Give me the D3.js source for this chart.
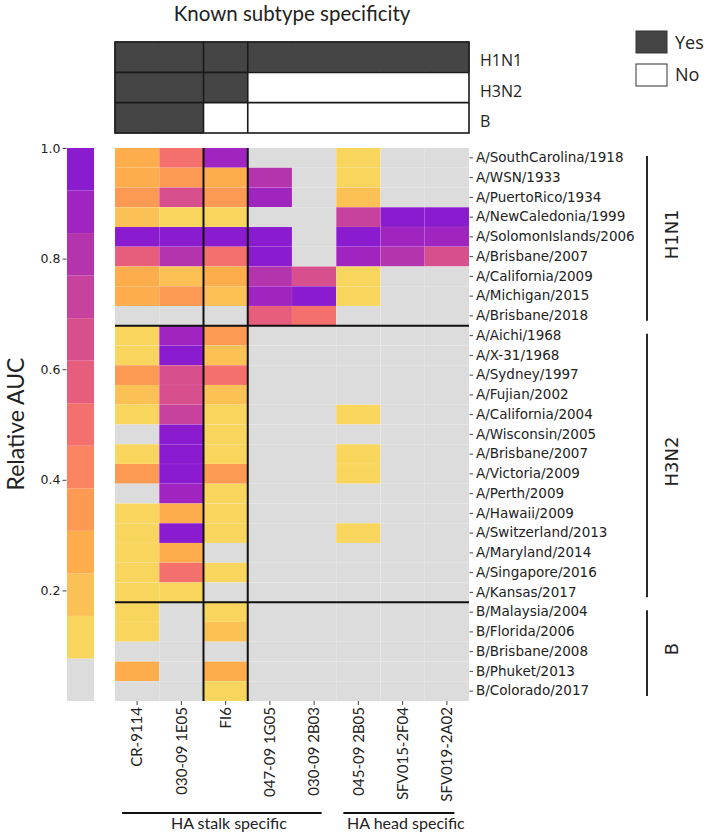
<!DOCTYPE html>
<html><head><meta charset="utf-8">
<script src="https://cdn.jsdelivr.net/npm/d3@7"></script>
<style>body{margin:0;background:#fff;} svg{display:block;}</style>
</head><body><svg id="chart" width="709" height="835"></svg>
<script>
// ---------------- DATA ----------------
const antibodies = ['CR-9114','030-09 1E05','FI6','047-09 1G05','030-09 2B03','045-09 2B05','SFV015-2F04','SFV019-2A02'];
const antibodyClasses = ['HA stalk specific','HA head specific'];
const antibodyClassSizes = [5,3];

const strains = ['A/SouthCarolina/1918','A/WSN/1933','A/PuertoRico/1934','A/NewCaledonia/1999','A/SolomonIslands/2006','A/Brisbane/2007','A/California/2009','A/Michigan/2015','A/Brisbane/2018',
  'A/Aichi/1968','A/X-31/1968','A/Sydney/1997','A/Fujian/2002','A/California/2004','A/Wisconsin/2005','A/Brisbane/2007','A/Victoria/2009','A/Perth/2009','A/Hawaii/2009','A/Switzerland/2013','A/Maryland/2014','A/Singapore/2016','A/Kansas/2017',
  'B/Malaysia/2004','B/Florida/2006','B/Brisbane/2008','B/Phuket/2013','B/Colorado/2017'];
const subtypes = ['H1N1','H3N2','B'];
const subtypeSizes = [9,14,5];

// Known subtype specificity (1 = Yes, 0 = No), per antibody
const specH1N1 = [1,1,1,1,1,1,1,1];
const specH3N2 = [1,1,1,0,0,0,0,0];
const specB    = [1,1,0,0,0,0,0,0];

// Relative AUC per antibody (one value per strain, null = no binding)
const aucCR9114  = [0.27,0.27,0.35,0.19,0.96,0.58,0.27,0.27,null, 0.12,0.12,0.35,0.19,0.12,null,0.12,0.35,null,0.12,0.12,0.12,0.12,0.12, 0.12,0.12,null,0.27,null];
const auc1E05    = [0.50,0.35,0.65,0.12,0.96,0.81,0.19,0.35,null, 0.88,0.96,0.65,0.65,0.73,0.96,0.96,0.96,0.88,0.27,0.96,0.27,0.50,0.12, null,null,null,null,null];
const aucFI6     = [0.88,0.27,0.35,0.12,0.96,0.50,0.27,0.19,null, 0.35,0.19,0.50,0.19,0.12,0.12,0.12,0.35,0.12,0.12,0.12,null,0.12,null, 0.12,0.19,null,0.27,0.12];
const auc1G05    = [null,0.81,0.88,null,0.96,0.96,0.81,0.88,0.58, null,null,null,null,null,null,null,null,null,null,null,null,null,null, null,null,null,null,null];
const auc2B03    = [null,null,null,null,null,null,0.65,0.96,0.50, null,null,null,null,null,null,null,null,null,null,null,null,null,null, null,null,null,null,null];
const auc2B05    = [0.12,0.12,0.19,0.73,0.96,0.88,0.12,0.12,null, null,null,null,null,0.12,null,0.12,0.12,null,null,0.12,null,null,null, null,null,null,null,null];
const auc2F04    = [null,null,null,0.96,0.88,0.81,null,null,null, null,null,null,null,null,null,null,null,null,null,null,null,null,null, null,null,null,null,null];
const auc2A02    = [null,null,null,0.96,0.88,0.65,null,null,null, null,null,null,null,null,null,null,null,null,null,null,null,null,null, null,null,null,null,null];

const colorbarTicks = [0.2,0.4,0.6,0.8,1.0];
// 13 discrete colour bands, low -> high (first = no binding)
const bandColors = ['#dcdcdd','#f8d65e','#fcc154','#fdad4c','#fc9952','#fa8560','#f3706c','#e65e7c','#d84f8d','#c7429f','#b434ae','#a025c0','#8b1bce'];

// ---------------- CHART ----------------
const aucColumns = [aucCR9114,auc1E05,aucFI6,auc1G05,auc2B03,auc2B05,auc2F04,auc2A02];
const specRows = [specH1N1,specH3N2,specB];

const svg = d3.select('#chart');
const x = d3.scaleBand().domain(antibodies).range([115,469]);
const y = d3.scaleBand().domain(d3.range(strains.length)).range([148,701]);
const color = d3.scaleQuantize().domain([0,1]).range(bandColors);
const cb = d3.scaleLinear().domain([0,1]).range([701,148]);

// title
svg.append('text').attr('x',292).attr('y',21).attr('text-anchor','middle')
  .style('font-family','Lato').style('font-size','20.5px').attr('fill','#222').text('Known subtype specificity');

// known specificity block
const ys = d3.scaleBand().domain(subtypes).range([42,133]);
const block = svg.append('g');
specRows.forEach((row,ri)=>{
  row.forEach((v,ci)=>{
    block.append('rect').attr('x',x(antibodies[ci])-0.5).attr('y',ys(subtypes[ri])-0.5)
      .attr('width',x.bandwidth()+1).attr('height',ys.bandwidth()+1)
      .attr('fill', v ? '#454545' : '#ffffff');
  });
});
block.append('rect').attr('x',x.range()[0]).attr('y',ys.range()[0]).attr('width',x.range()[1]-x.range()[0]).attr('height',ys.range()[1]-ys.range()[0])
  .attr('fill','none').attr('stroke','#1a1a1a').attr('stroke-width',1.6);
subtypes.slice(1).forEach(s=>{
  block.append('line').attr('x1',x.range()[0]).attr('x2',x.range()[1]).attr('y1',ys(s)).attr('y2',ys(s)).attr('stroke','#1a1a1a').attr('stroke-width',1.6);
});
[antibodies[2],antibodies[3]].forEach(a=>{
  block.append('line').attr('x1',x(a)).attr('x2',x(a)).attr('y1',ys.range()[0]).attr('y2',ys.range()[1]).attr('stroke','#1a1a1a').attr('stroke-width',1.6);
});
subtypes.forEach(s=>{
  block.append('text').attr('x',480).attr('y',ys(s)+ys.bandwidth()/2+3).attr('dominant-baseline','central')
    .style('font-family','Open Sans').style('font-size','16px').attr('fill','#222').text(s);
});

// legend
const legend = [{label:'Yes',fill:'#454545'},{label:'No',fill:'#ffffff'}];
legend.forEach((d,i)=>{
  svg.append('rect').attr('x',636).attr('y',31+i*33).attr('width',31).attr('height',22)
    .attr('fill',d.fill).attr('stroke','#333').attr('stroke-width',1);
  svg.append('text').attr('x',675).attr('y',42+i*32).attr('dominant-baseline','central')
    .style('font-family','Open Sans').style('font-size','18px').attr('fill','#222').text(d.label);
});

// heatmap cells
const cells = [];
aucColumns.forEach((col,ci)=>col.forEach((v,ri)=>cells.push({ci,ri,v})));
svg.append('g').selectAll('rect').data(cells).join('rect')
  .attr('x',d=>x(antibodies[d.ci])).attr('y',d=>y(d.ri))
  .attr('width',x.bandwidth()).attr('height',y.bandwidth())
  .attr('fill',d=>color(d.v==null?0:d.v))
  .attr('stroke','rgba(255,255,255,0.12)').attr('stroke-width',0.5);

// separators
let acc=0;
subtypeSizes.slice(0,-1).forEach(n=>{
  acc+=n;
  svg.append('line').attr('x1',x.range()[0]).attr('x2',x.range()[1]).attr('y1',y(acc)).attr('y2',y(acc))
    .attr('stroke','#111').attr('stroke-width',2);
});
[antibodies[2],antibodies[3]].forEach(a=>{
  svg.append('line').attr('x1',x(a)).attr('x2',x(a)).attr('y1',y.range()[0]).attr('y2',y.range()[1])
    .attr('stroke','#111').attr('stroke-width',2);
});

// row axis (right)
const rowAxis = svg.append('g').attr('transform','translate(469.5,0)')
  .call(d3.axisRight(y).tickSize(3.5).tickPadding(3).tickFormat(i=>strains[i]));
rowAxis.select('.domain').remove();
rowAxis.selectAll('line').attr('stroke','#444');
rowAxis.selectAll('text').style('font-family','DejaVu Sans').style('font-size','13.5px').attr('fill','#222');

// column axis (bottom)
const colAxis = svg.append('g').attr('transform','translate(0,701)')
  .call(d3.axisBottom(x).tickSize(4).tickPadding(2));
colAxis.select('.domain').remove();
colAxis.selectAll('line').attr('stroke','#444');
colAxis.selectAll('text').attr('transform','rotate(-90)').attr('x',-6).attr('y',0).attr('dy','0.35em')
  .style('text-anchor','end').style('font-family','Lato').style('font-size','15px').attr('fill','#222');

// colorbar
svg.append('g').selectAll('rect').data(bandColors).join('rect')
  .attr('x',67).attr('width',27)
  .attr('y',c=>cb(color.invertExtent(c)[1]))
  .attr('height',c=>cb(color.invertExtent(c)[0])-cb(color.invertExtent(c)[1]))
  .attr('fill',c=>c);
const cbAxis = svg.append('g').attr('transform','translate(66.5,0)')
  .call(d3.axisLeft(cb).tickValues(colorbarTicks).tickFormat(d3.format('.1f')).tickSize(4).tickPadding(2));
cbAxis.select('.domain').remove();
cbAxis.selectAll('line').attr('stroke','#444');
cbAxis.selectAll('text').style('font-family','DejaVu Sans').style('font-size','12.5px').attr('fill','#222');
svg.append('text').attr('transform','translate(15,424) rotate(-90)').attr('text-anchor','middle').attr('dominant-baseline','central')
  .style('font-family','Lato').style('font-size','23px').attr('fill','#222').text('Relative AUC');

// subtype brackets (right)
let start=0;
subtypes.forEach((s,i)=>{
  const y0=y(start)+8, y1=y(start+subtypeSizes[i]-1)+y.bandwidth()-5;
  svg.append('line').attr('x1',647).attr('x2',647).attr('y1',y0).attr('y2',y1).attr('stroke','#111').attr('stroke-width',1.8);
  svg.append('text').attr('transform',`translate(671,${(y0+y1)/2-4}) rotate(-90)`).attr('text-anchor','middle').attr('dominant-baseline','central')
    .style('font-family','DejaVu Sans').style('font-size','18px').attr('fill','#222').text(s);
  start+=subtypeSizes[i];
});

// antibody class brackets (bottom)
start=0;
antibodyClasses.forEach((c,i)=>{
  const a0=antibodies[start], a1=antibodies[start+antibodyClassSizes[i]-1];
  const x0=x(a0)+x.bandwidth()/2-15, x1=x(a1)+x.bandwidth()/2+7.5;
  svg.append('line').attr('x1',x0).attr('x2',x1).attr('y1',813).attr('y2',813).attr('stroke','#111').attr('stroke-width',1.8);
  svg.append('text').attr('x',(x0+x1)/2+7).attr('y',829).attr('text-anchor','middle')
    .style('font-family','Lato').style('font-size','16px').attr('fill','#222').text(c);
  start+=antibodyClassSizes[i];
});
</script></body></html>
